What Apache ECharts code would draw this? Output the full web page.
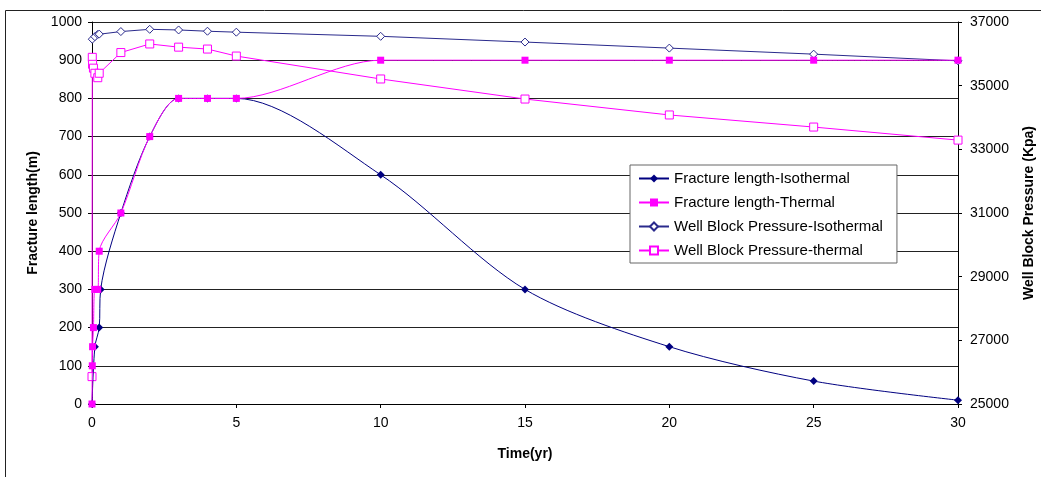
<!DOCTYPE html>
<html>
<head>
<meta charset="utf-8">
<script src="https://cdn.jsdelivr.net/npm/echarts@6/dist/echarts.min.js"></script>
<style>
html, body { margin: 0; padding: 0; background: #fff; }
#main { width: 1041px; height: 477px; }
</style>
</head>
<body>
<div id="main"></div>
<script>
// fracture length, isothermal case
var isoFracTime = [0, 0.1, 0.25, 0.3, 1, 2, 3, 4, 5, 10, 15, 20, 25, 30];
var isoFrac = [0, 150, 200, 300, 500, 700, 800, 800, 800, 600, 300, 150, 60, 10];
// fracture length, thermal case
var thFracTime = [0, 0.01, 0.02, 0.05, 0.1, 0.2, 0.25, 1, 2, 3, 4, 5, 10, 15, 20, 25, 30];
var thFrac = [0, 100, 150, 200, 300, 300, 400, 500, 700, 800, 800, 800, 900, 900, 900, 900, 900];
// well block pressure (kPa)
var isoPresTime = [0.01, 0.1, 0.2, 0.25, 1, 2, 3, 4, 5, 10, 15, 20, 25, 30];
var isoPres = [36460, 36540, 36610, 36620, 36700, 36770, 36750, 36710, 36680, 36550, 36370, 36180, 35990, 35780];
var thPresTime = [0, 0.01, 0.02, 0.05, 0.1, 0.2, 0.25, 1, 2, 3, 4, 5, 10, 15, 20, 25, 30];
var thPres = [25860, 35890, 35670, 35550, 35390, 35250, 35390, 36040, 36310, 36210, 36150, 35930, 35210, 34580, 34080, 33700, 33290];

var seriesNames = ['Fracture length-Isothermal', 'Fracture length-Thermal', 'Well Block Pressure-Isothermal', 'Well Block Pressure-thermal'];

function pairs(xs, ys) {
    var out = [];
    for (var i = 0; i < xs.length; i++) out.push([xs[i], ys[i]]);
    return out;
}
function plain(v) { return String(v); }

var font = 'Liberation Sans, Arial, sans-serif';
var chart = echarts.init(document.getElementById('main'));

var nameStyle = { fontWeight: 'bold', fontSize: 14, color: '#000', fontFamily: font };

chart.setOption({
    animation: false,
    backgroundColor: '#fff',
    textStyle: { fontFamily: font, color: '#000' },
    grid: { left: 92, right: 83, top: 22, bottom: 73, outerBoundsMode: 'none' },
    graphic: [{
        type: 'rect',
        shape: { x: 5.5, y: 10.5, width: 1060, height: 490 },
        style: { fill: null, stroke: '#222', lineWidth: 1 },
        silent: true
    }],
    legend: {
        orient: 'vertical',
        left: 630, top: 165,
        padding: [5, 14, 4, 8],
        itemGap: 7,
        itemWidth: 30,
        itemHeight: 10,
        borderColor: '#666',
        borderWidth: 1,
        backgroundColor: '#fff',
        textStyle: { fontSize: 15, fontFamily: font, color: '#000', lineHeight: 17 },
        data: seriesNames
    },
    xAxis: {
        type: 'value',
        min: 0, max: 30, interval: 5,
        name: 'Time(yr)',
        nameLocation: 'middle',
        nameGap: 43,
        nameTextStyle: nameStyle,
        axisLine: { lineStyle: { color: '#000', width: 1 } },
        axisTick: { show: true, length: 4, lineStyle: { color: '#000' } },
        axisLabel: { fontSize: 14, color: '#000', margin: 12 },
        splitLine: { show: false }
    },
    yAxis: [{
        type: 'value',
        min: 0, max: 1000, interval: 100,
        name: 'Fracture length(m)',
        nameLocation: 'middle',
        nameRotate: 90,
        nameGap: 52,
        nameTextStyle: nameStyle,
        axisLine: { show: true, lineStyle: { color: '#000', width: 1 } },
        axisTick: { show: true, length: 4, lineStyle: { color: '#000' } },
        axisLabel: { fontSize: 14, color: '#000', margin: 10, formatter: plain },
        splitLine: { show: true, lineStyle: { color: '#222', width: 1 } }
    }, {
        type: 'value',
        position: 'right',
        min: 25000, max: 37000, interval: 2000,
        name: 'Well Block Pressure (Kpa)',
        nameLocation: 'middle',
        nameRotate: 90,
        nameGap: 64,
        nameTextStyle: nameStyle,
        axisLine: { show: true, lineStyle: { color: '#000', width: 1 } },
        axisTick: { show: true, length: 4, lineStyle: { color: '#000' } },
        axisLabel: { fontSize: 14, color: '#000', margin: 12, formatter: plain },
        splitLine: { show: false }
    }],
    series: [{
        name: seriesNames[0],
        type: 'line',
        yAxisIndex: 0,
        data: pairs(isoFracTime, isoFrac),
        smooth: 0.3,
        symbol: 'diamond',
        symbolSize: 8,
        itemStyle: { color: '#000080' },
        lineStyle: { color: '#000080', width: 1 },
        z: 4
    }, {
        name: seriesNames[1],
        type: 'line',
        yAxisIndex: 0,
        data: pairs(thFracTime, thFrac),
        smooth: 0.3,
        symbol: 'rect',
        symbolSize: 7,
        itemStyle: { color: '#ff00ff' },
        lineStyle: { color: '#ff00ff', width: 1 },
        z: 5
    }, {
        name: seriesNames[2],
        type: 'line',
        yAxisIndex: 1,
        data: pairs(isoPresTime, isoPres),
        symbol: 'diamond',
        symbolSize: 8,
        itemStyle: { color: '#fff', borderColor: '#2a2a8c', borderWidth: 1 },
        lineStyle: { color: '#2a2a8c', width: 1 },
        z: 3
    }, {
        name: seriesNames[3],
        type: 'line',
        yAxisIndex: 1,
        data: pairs(thPresTime, thPres),
        symbol: 'rect',
        symbolSize: 8,
        itemStyle: { color: '#fff', borderColor: '#ff00ff', borderWidth: 1 },
        lineStyle: { color: '#ff00ff', width: 1 },
        z: 3
    }]
});
</script>
</body>
</html>
